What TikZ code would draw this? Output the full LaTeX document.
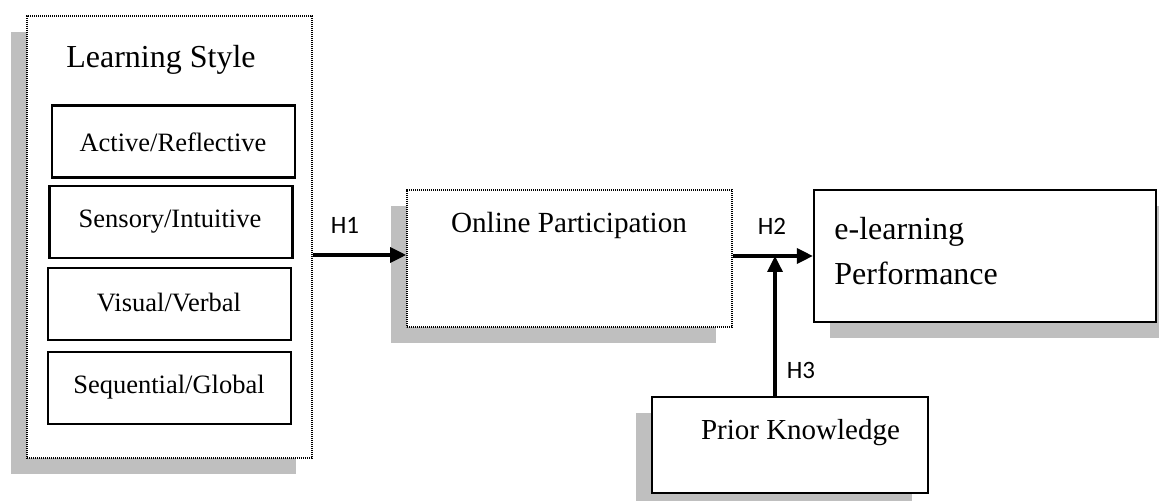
\documentclass[tikz,border=0pt]{standalone}
\usepackage{fontspec}
\setmainfont{Liberation Serif}
\newfontfamily\hfont{Carlito}
\usepackage{tikz}
\usetikzlibrary{arrows.meta}
\usetikzlibrary{shadows}

\begin{document}
\begin{tikzpicture}[x=0.5pt,y=-0.5pt,
  box/.style={draw, fill=white, line width=1.1pt, inner sep=0pt},
  dotbox/.style={box, line width=0.8pt, dash pattern=on 0.6pt off 0.4pt},
  shleft/.style={drop shadow={shadow xshift=-8pt, shadow yshift=-8pt, fill=black!25, opacity=1}},
  shright/.style={drop shadow={shadow xshift=8pt, shadow yshift=-8pt, fill=black!25, opacity=1}},
  stylebox/.style={box, minimum width=121.5pt, minimum height=36pt},
  hyp/.style={font=\hfont\fontsize{12.5}{15}\selectfont},
  arr/.style={line width=1.7pt, -{Triangle[length=8pt,width=7.5pt]}}]
\useasboundingbox (0,0) rectangle (1159,501);
\coordinate (a) at (169.5,237);
\coordinate (b) at (569.5,258.5);
\coordinate (c) at (985,256);
\coordinate (d) at (790,445);
\coordinate (j) at (775,256);
\coordinate (h) at (0,255);
% draws boxes
\node[dotbox, shleft, minimum width=142.5pt, minimum height=221pt] (ls) at (a) {};
\node[dotbox, shleft, minimum width=162.5pt, minimum height=68.5pt] (op) at (b) {};
\node[box, shright, minimum width=171pt, minimum height=66pt] (ep) at (c) {};
\node[box, shleft, minimum width=138pt, minimum height=48pt] (pk) at (d) {};
% learning style dimensions
\node[stylebox] (ar) at (173.5,141.5) {};
\node[stylebox] (si) at (171,222) {};
\node[stylebox] (vv) at (169.5,304) {};
\node[stylebox] (sg) at (169.5,388) {};
% labels boxes
\node[font=\fontsize{16}{19}\selectfont] (lstext) at (161,60) {Learning Style};
\node[font=\fontsize{13.25}{16}\selectfont] (artext) at (173,142) {Active/Reflective};
\node[font=\fontsize{13.25}{16}\selectfont] (sitext) at (170,222) {Sensory/Intuitive};
\node[font=\fontsize{13.25}{16}\selectfont] (vvtext) at (169,303) {Visual/Verbal};
\node[font=\fontsize{13.25}{16}\selectfont] (sgtext) at (169,387) {Sequential/Global};
\node[font=\fontsize{14.6}{17}\selectfont] (optext) at (569,225) {Online Participation};
\node[font=\fontsize{16}{22.5}\selectfont, align=left, anchor=west, inner sep=0pt] (eptext) at (834,251) {e-learning\\Performance};
\node[font=\fontsize{14.5}{17}\selectfont] (pktext) at (800.5,433) {Prior Knowledge};
% draws arrows
\draw[arr] (ls.east |- h) -- (op.west |- h);
\draw[arr] (op.east |- j) -- (ep.west |- j);
\draw[arr] (pk.north -| j) -- (j);
% labels arrows
\node[hyp] (h1) at (345,225) {H1};
\node[hyp] (h2) at (772,226) {H2};
\node[hyp] (h3) at (801,370) {H3};
\end{tikzpicture}
\end{document}
